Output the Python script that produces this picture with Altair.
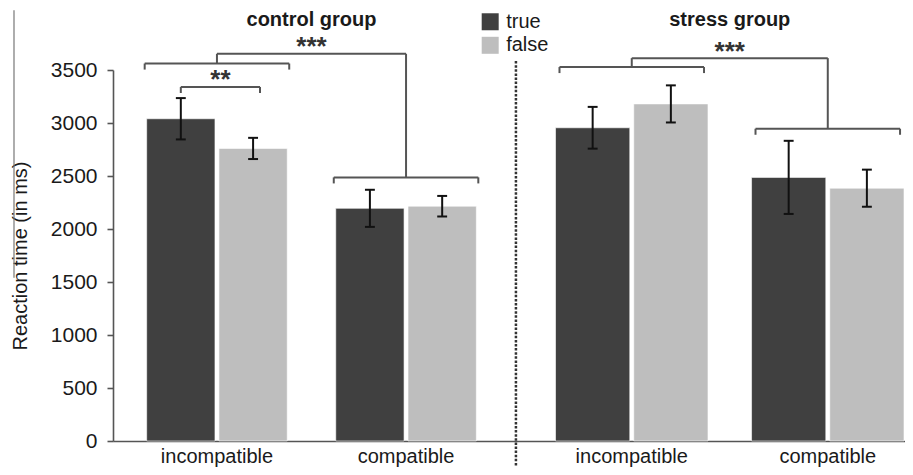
import altair as alt
import pandas as pd

# ---------------- data ----------------
groups = ["control group", "stress group"]
categories = ["incompatible", "compatible"]
responses = ["true", "false"]
# mean reaction time (ms), order: group -> category -> response
means = [3040, 2760, 2195, 2215, 2955, 3180, 2487, 2385]
# error bar half-lengths (ms)
errors = [195, 100, 175, 97, 197, 175, 345, 175]

# significance brackets (levels in ms)
cat_bracket_level = [[3561, 2487], [3528, 2946]]   # bracket over each category
connector_top = [3653, 3612]                       # top of connector per group
group_stars = ["***", "***"]                       # incompatible vs compatible
pair_bracket = [("control group", "incompatible", 3340, "**")]  # true vs false

y_ticks = [0, 500, 1000, 1500, 2000, 2500, 3000, 3500]
y_title = "Reaction time (in ms)"

# ---------------- layout (reference-pixel units for x) ----------------
X_DOMAIN = [113, 913]
group_start = [147, 560]
bar_w = [69, 75]
cat_step = [191, 198]
pair_gap = 4
bracket_half = 73
leg = 57
star_off = 100
cap_half = 5
FONT = "Liberation Sans"
TXT = "#1a1a1a"
LINE = "#555555"

rows = []
k = 0
for gi, g in enumerate(groups):
    for ci, c in enumerate(categories):
        for ri, r in enumerate(responses):
            left = group_start[gi] + ci * cat_step[gi] + ri * (bar_w[gi] + pair_gap)
            right = left + bar_w[gi]
            m, e = means[k], errors[k]
            rows.append(dict(group=g, category=c, response=r, left=left, right=right,
                             center=(left + right) / 2, mean=m, base=0, lo=m - e, hi=m + e,
                             cl=(left + right) / 2 - cap_half, cr=(left + right) / 2 + cap_half))
            k += 1
df = pd.DataFrame(rows)


def cat_center(g, c):
    s = df[(df.group == g) & (df.category == c)]
    return (s.left.min() + s.right.max()) / 2


segs = []
texts = []
for gi, g in enumerate(groups):
    cxs = []
    for ci, c in enumerate(categories):
        cx = cat_center(g, c)
        cxs.append(cx)
        L = cat_bracket_level[gi][ci]
        segs += [dict(x=cx - bracket_half, x2=cx + bracket_half, y=L, y2=L),
                 dict(x=cx - bracket_half, x2=cx - bracket_half, y=L, y2=L - leg),
                 dict(x=cx + bracket_half, x2=cx + bracket_half, y=L, y2=L - leg)]
    top = connector_top[gi]
    segs += [dict(x=cxs[0], x2=cxs[0], y=cat_bracket_level[gi][0], y2=top),
             dict(x=cxs[0], x2=cxs[1], y=top, y2=top),
             dict(x=cxs[1], x2=cxs[1], y=top, y2=cat_bracket_level[gi][1])]
    texts.append(dict(x=(cxs[0] + cxs[1]) / 2, y=top + star_off, text=group_stars[gi]))

for g, c, L, s in pair_bracket:
    sub = df[(df.group == g) & (df.category == c)]
    a = sub.center.min()
    b = sub.center.max() + 7
    segs += [dict(x=a, x2=b, y=L, y2=L),
             dict(x=a, x2=a, y=L, y2=L - leg),
             dict(x=b, x2=b, y=L, y2=L - leg)]
    texts.append(dict(x=(a + b) / 2, y=L + star_off, text=s))

seg_df = pd.DataFrame(segs)
star_df = pd.DataFrame(texts)

title_df = pd.DataFrame([dict(x=(df[df.group == g].left.min() + df[df.group == g].right.max()) / 2,
                              y=3975, text=g) for g in groups])
cat_df = pd.DataFrame([dict(x=cat_center(g, c), y=-205, text=c) for g in groups for c in categories])

divider = (df[df.group == groups[0]].right.max() + df[df.group == groups[1]].left.min()) / 2
div_df = pd.DataFrame([dict(x=divider, y=3584, y2=-320)])
LEGEND_X = 494
leg_df = pd.DataFrame([dict(response="true", x=LEGEND_X, y=3955),
                       dict(response="false", x=LEGEND_X, y=3733)])
edge_df = pd.DataFrame([dict(x=13, y=4063, y2=1539)])

# ---------------- scales / axes ----------------
xs = alt.Scale(domain=X_DOMAIN, nice=False, zero=False)
ys = alt.Scale(domain=[0, 3500], nice=False)
xax = alt.Axis(ticks=False, labels=False, title=None, grid=False,
               domainColor=LINE, domainWidth=1.6)
yax = alt.Axis(title=y_title, values=y_ticks, format="d", grid=False,
               labelFont=FONT, labelFontSize=21, labelColor=TXT, labelPadding=10,
               tickSize=6, tickColor=LINE, tickWidth=1.6,
               domainColor=LINE, domainWidth=1.6,
               titleFont=FONT, titleFontSize=20, titleFontWeight="normal",
               titleColor=TXT, titlePadding=20)
color = alt.Color("response:N", scale=alt.Scale(domain=responses, range=["#404040", "#bebebe"]),
                  legend=None)


def X(f):
    return alt.X(f, type="quantitative", scale=xs, axis=xax)


def Y(f):
    return alt.Y(f, type="quantitative", scale=ys, axis=yax)


bars = alt.Chart(df).mark_bar(stroke="white", strokeWidth=0.6).encode(
    x=X("left"), x2="right", y=Y("mean"), y2="base", color=color)

err_v = alt.Chart(df).mark_rule(color="#111", strokeWidth=2).encode(
    x=X("center"), y=Y("lo"), y2="hi")
cap_hi = alt.Chart(df).mark_rule(color="#111", strokeWidth=2).encode(
    x=X("cl"), x2="cr", y=Y("hi"))
cap_lo = alt.Chart(df).mark_rule(color="#111", strokeWidth=2).encode(
    x=X("cl"), x2="cr", y=Y("lo"))

brackets = alt.Chart(seg_df).mark_rule(color=LINE, strokeWidth=2).encode(
    x=X("x"), x2="x2", y=Y("y"), y2="y2")

stars = alt.Chart(star_df).mark_text(font=FONT, fontSize=26, fontWeight="bold",
                                     color="#333", baseline="alphabetic", dy=12).encode(
    x=X("x"), y=Y("y"), text="text:N")

titles = alt.Chart(title_df).mark_text(font=FONT, fontSize=20, fontWeight="bold",
                                       color=TXT, baseline="middle").encode(
    x=X("x"), y=Y("y"), text="text:N")

cat_labels = alt.Chart(cat_df).mark_text(font=FONT, fontSize=20, color=TXT,
                                         baseline="alphabetic").encode(
    x=X("x"), y=Y("y"), text="text:N")

divider_line = alt.Chart(div_df).mark_rule(color="#333", strokeWidth=2.5,
                                           strokeDash=[2.5, 1.6]).encode(
    x=X("x"), y=Y("y"), y2="y2")

legend_sq = alt.Chart(leg_df).mark_square(size=289, opacity=1).encode(
    x=X("x"), y=Y("y"), color=color)
legend_txt = alt.Chart(leg_df).mark_text(font=FONT, fontSize=20, color=TXT, align="left",
                                         baseline="middle", dx=16).encode(
    x=X("x"), y=Y("y"), text="response:N")

edge = alt.Chart(edge_df).mark_rule(color="#777", strokeWidth=1.2).encode(
    x=X("x"), y=Y("y"), y2="y2")

chart = alt.layer(bars, err_v, cap_hi, cap_lo, brackets, stars, titles, cat_labels,
                  divider_line, legend_sq, legend_txt, edge).properties(
    width=792, height=371,
    autosize=alt.AutoSizeParams(type="none"),
    padding={"left": 105, "top": 62, "right": 0, "bottom": 26},
).configure_view(stroke=None)

chart.save("out.html", embed_options={"renderer": "svg", "actions": False})
